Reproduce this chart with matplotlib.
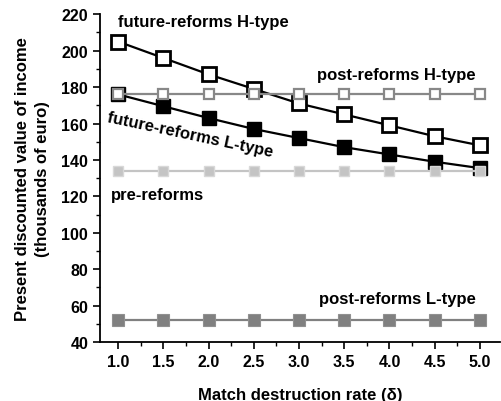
import matplotlib
matplotlib.use("Agg")
import matplotlib.pyplot as plt
from matplotlib.ticker import MultipleLocator

plt.rcParams['font.family'] = ['Liberation Sans', 'DejaVu Sans']
plt.rcParams['font.weight'] = 'bold'

delta = [1.0, 1.5, 2.0, 2.5, 3.0, 3.5, 4.0, 4.5, 5.0]
future_H = [205, 196, 187, 179, 171, 165, 159, 153, 148]
future_L = [176, 169.5, 163, 157, 152, 147, 143, 139, 135.5]
post_H = [176] * 9
pre = [134] * 9
post_L = [52] * 9

fig = plt.figure(figsize=(5.01, 4.02), dpi=100)
ax = fig.add_axes([0.1996, 0.1468, 0.798, 0.8152])

ax.plot(delta, future_H, color='black', lw=1.6, marker='s', ms=10,
        mfc='white', mec='black', mew=2, zorder=3)
ax.plot(delta, future_L, color='black', lw=1.6, marker='s', ms=9.5,
        mfc='black', mec='black', zorder=3)
ax.plot(delta, post_H, color='#888888', lw=1.6, marker='s', ms=7,
        mfc='white', mec='#888888', mew=1.6, zorder=4)
ax.plot(delta, pre, color='#c4c4c4', lw=1.6, marker='s', ms=7,
        mfc='#c4c4c4', mec='#d8d8d8', mew=1, zorder=4)
ax.plot(delta, post_L, color='#808080', lw=1.6, marker='s', ms=8.5,
        mfc='#808080', mec='#909090', mew=0.8, zorder=4)

ax.set_xlim(0.8, 5.22)
ax.set_ylim(40, 220)
ax.xaxis.set_minor_locator(MultipleLocator(0.25))
ax.yaxis.set_major_locator(MultipleLocator(20))
ax.yaxis.set_minor_locator(MultipleLocator(10))
ax.set_xticks(delta)
ax.set_xticklabels([f"{d:.1f}" for d in delta])
for s in ['top', 'right']:
    ax.spines[s].set_visible(False)
for s in ['left', 'bottom']:
    ax.spines[s].set_linewidth(1.3)
ax.tick_params(which='major', direction='out', length=5, width=1.2, labelsize=11.5)
ax.tick_params(which='minor', direction='out', length=3, width=1.0)
for lab in ax.get_xticklabels() + ax.get_yticklabels():
    lab.set_fontweight('bold')

ax.set_xlabel('Match destruction rate (\u03b4)', fontsize=12, fontweight='bold', labelpad=13)
ax.set_ylabel('Present discounted value of income\n(thousands of euro)', fontsize=12,
              fontweight='bold', labelpad=8, linespacing=1.45)

kw = dict(fontsize=12, fontweight='bold', color='black')
ax.text(1.0, 216.3, 'future-reforms H-type', ha='left', va='center', **kw)
ax.text(4.95, 187, 'post-reforms H-type', ha='right', va='center', **kw)
ax.text(0.88, 163.5, 'future-reforms L-type', ha='left', va='center',
        rotation=-12, rotation_mode='anchor', **kw)
ax.text(0.92, 120.8, 'pre-reforms', ha='left', va='center', **kw)
ax.text(4.95, 63.7, 'post-reforms L-type', ha='right', va='center', **kw)

fig.savefig('out.png', dpi=100)
